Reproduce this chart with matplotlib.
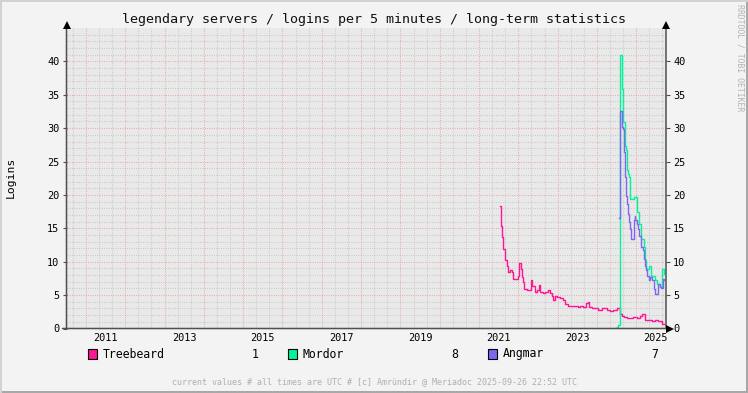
import numpy as np
import matplotlib.pyplot as plt
from matplotlib.patches import Rectangle
from matplotlib.transforms import offset_copy

# ---------------------------------------------------------------------------
# data (decimal years / logins per 5 minutes)
treebeard_t = [2021.534, 2021.552, 2021.585, 2021.618, 2021.662, 2021.705, 2021.746,
               2021.789, 2021.832, 2021.873, 2022.000, 2022.025, 2022.061, 2022.087,
               2022.127, 2022.153, 2022.220, 2022.316, 2022.356, 2022.425, 2022.483,
               2022.519, 2022.552, 2022.621, 2022.679, 2022.748, 2022.807, 2022.850,
               2022.891, 2022.934, 2022.992, 2023.061, 2023.130, 2023.188, 2023.272,
               2023.359, 2023.443, 2023.511, 2023.570, 2023.654, 2023.723, 2023.766,
               2023.807, 2023.868, 2023.952, 2024.036, 2024.122, 2024.181, 2024.249,
               2024.333, 2024.417, 2024.504, 2024.545, 2024.588, 2024.631, 2024.690,
               2024.758, 2024.842, 2024.926, 2025.013, 2025.097, 2025.155, 2025.232,
               2025.308, 2025.394, 2025.478, 2025.562, 2025.649, 2025.690, 2025.715]
treebeard_v = [18.3, 15.4, 13.7, 11.9, 10.2, 9.4, 8.4,
               8.7, 8.4, 7.4, 7.9, 9.8, 8.9, 7.7,
               6.9, 5.9, 5.8, 7.3, 6.4, 5.4, 5.7,
               6.5, 5.4, 5.3, 5.4, 5.8, 5.3, 4.8,
               4.3, 4.8, 4.7, 4.6, 4.2, 3.7, 3.4,
               3.3, 3.4, 3.2, 3.3, 3.2, 3.8, 3.9,
               3.2, 3.0, 3.1, 2.8, 3.0, 3.1, 2.7,
               2.6, 2.8, 3.1, 3.0, 2.2, 1.9, 1.7,
               1.6, 1.5, 1.7, 1.6, 1.8, 2.2, 1.3,
               1.2, 1.1, 1.2, 1.1, 0.7, 0.6, 0.6]

mordor_t = [2024.511, 2024.537, 2024.575, 2024.646, 2024.672, 2024.707, 2024.740,
            2024.758, 2024.784, 2024.809, 2024.830, 2024.936, 2025.020, 2025.064,
            2025.130, 2025.191, 2025.216, 2025.242, 2025.318, 2025.384, 2025.471,
            2025.529, 2025.613, 2025.656, 2025.700, 2025.715]
mordor_v = [0.2, 0.5, 40.9, 35.8, 30.9, 27.4, 26.7,
            23.7, 23.2, 22.7, 19.4, 19.7, 17.4, 15.7,
            13.4, 12.2, 10.2, 8.9, 9.4, 7.9, 7.2,
            6.7, 6.2, 8.9, 8.2, 8.2]

angmar_t = [2024.570, 2024.588, 2024.639, 2024.664, 2024.682, 2024.707, 2024.740,
            2024.766, 2024.791, 2024.824, 2024.850, 2024.875, 2024.936, 2024.962,
            2024.977, 2025.020, 2025.046, 2025.079, 2025.130, 2025.165, 2025.191,
            2025.232, 2025.257, 2025.275, 2025.318, 2025.359, 2025.402, 2025.445,
            2025.486, 2025.555, 2025.613, 2025.639, 2025.674, 2025.715]
angmar_v = [16.5, 32.5, 30.2, 29.9, 26.4, 22.7, 19.9,
            18.7, 17.2, 15.9, 14.9, 13.4, 16.2, 16.9,
            16.2, 15.7, 14.9, 13.9, 12.2, 11.7, 10.4,
            9.4, 8.7, 7.9, 7.2, 7.7, 7.2, 5.9,
            5.2, 6.7, 6.2, 6.0, 7.4, 7.2]

series_names = ["Treebeard", "Mordor", "Angmar"]
series_colors = ["#FF1493", "#00F59B", "#7B68EE"]
current_values = ["1", "8", "7"]

year_labels = [2011, 2013, 2015, 2017, 2019, 2021, 2023, 2025]
y_labels = list(range(0, 45, 5))

title = "legendary servers / logins per 5 minutes / long-term statistics"
footer = "current values # all times are UTC # [c] Amründir @ Meriadoc 2025-09-26 22:52 UTC"
#---------------------------------------------------------------------------

W, H = 748, 393
mono = "DejaVu Sans Mono"
axis_col = "#505050"

fig = plt.figure(figsize=(W / 100, H / 100), dpi=100)
fig.patch.set_facecolor("#F3F3F3")

# 3d-ish frame around the canvas like rrdtool draws it
fig.add_artist(Rectangle((0, 0), 1, 2 / H, transform=fig.transFigure, color="#A8A8A8", lw=0))
fig.add_artist(Rectangle((1 - 2 / W, 0), 2 / W, 1, transform=fig.transFigure, color="#A8A8A8", lw=0))
fig.add_artist(Rectangle((0, 1 - 2 / H), 1, 2 / H, transform=fig.transFigure, color="#D2D2D2", lw=0))
fig.add_artist(Rectangle((0, 0), 2 / W, 1, transform=fig.transFigure, color="#D2D2D2", lw=0))

x0, x1, y0, y1 = 66.5, 666, 328.5, 28
ax = fig.add_axes((x0 / W, 1 - y0 / H, (x1 - x0) / W, (y0 - y1) / H))
ax.set_facecolor("#E9E9E9")
ax.set_xlim(2010.504, 2025.758)
ax.set_ylim(0, 45)
for s in ax.spines.values():
    s.set_visible(False)

# grid: minor grey dotted, major red dotted
dots = (0, (0.7, 1.5))
for yy in np.arange(1, 45, 1):
    col = "#EB9595" if yy % 5 == 0 else "#C0C0C0"
    ax.axhline(yy, color=col, lw=0.75, ls=dots, zorder=1)
for xx in np.arange(2010 + 2 / 3, 2025.76, 1 / 3):
    major = abs(xx - round(xx)) < 1e-6
    ax.axvline(xx, color="#EB9595" if major else "#C0C0C0", lw=0.75, ls=dots, zorder=1)

for t, v, c in zip([treebeard_t, mordor_t, angmar_t], [treebeard_v, mordor_v, angmar_v], series_colors):
    ax.plot(t, v, drawstyle="steps-post", color=c, lw=1.0, zorder=3)

# ticks
ax.set_xticks([y + 0.5 for y in year_labels])
ax.set_xticklabels([str(y) for y in year_labels], family=mono, fontsize=7.4)
ax.set_yticks(y_labels)
ax.set_yticklabels([str(v) for v in y_labels], family=mono, fontsize=7.4)
ax.tick_params(axis="x", length=0, pad=3.5)
ax.tick_params(axis="y", length=3, width=0.8, color=axis_col, direction="out", pad=2,
               left=True, right=True, labelleft=True, labelright=True)

# axis lines + black arrow heads
up = offset_copy(ax.transAxes, fig=fig, x=0, y=3.5, units="dots")
right = offset_copy(ax.transAxes, fig=fig, x=3.5, y=0, units="dots")
left = offset_copy(ax.transAxes, fig=fig, x=-4, y=0, units="dots")
ln = dict(arrowstyle="-", color=axis_col, lw=1.1, shrinkA=0, shrinkB=0)
ax.annotate("", xy=(0, 1), xycoords=up, xytext=(0, 0), textcoords=ax.transAxes,
            arrowprops=ln, annotation_clip=False)
ax.annotate("", xy=(1, 1), xycoords=up, xytext=(1, 0), textcoords=ax.transAxes,
            arrowprops=ln, annotation_clip=False)
ax.annotate("", xy=(1, 0), xycoords=right, xytext=(0, 0), textcoords=left,
            arrowprops=ln, annotation_clip=False)
for px, py, mk, tr in [(0, 1, "^", up), (1, 1, "^", up), (1, 0, ">", right)]:
    ax.plot([px], [py], marker=mk, ms=5.5, color="black", mew=0, transform=tr, clip_on=False, zorder=5)

# texts
fig.text(374 / W, 1 - 19 / H, title, family=mono, fontsize=9.6, ha="center", va="center", color="#111111")
fig.text(11 / W, 1 - 177 / H, "Logins", family=mono, fontsize=8.2, rotation=90, ha="center", va="center")
fig.text(740 / W, 1 - 58 / H, "RRDTOOL / TOBI OETIKER", family=mono, fontsize=5.9, rotation=270,
         ha="center", va="center", color="#B4B4B4")
fig.text(374 / W, 1 - 382 / H, footer, family=mono, fontsize=6.0, ha="center", va="center", color="#AFAFAF")

# legend row
for i, (name, col, cur) in enumerate(zip(series_names, series_colors, current_values)):
    bx = 88 + i * 200
    fig.add_artist(Rectangle((bx / W, 1 - 359 / H), 9 / W, 10 / H, transform=fig.transFigure,
                             facecolor=col, edgecolor="black", lw=0.8))
    fig.text((bx + 14.5) / W, 1 - 354 / H, name, family=mono, fontsize=8.3, ha="left", va="center")
    fig.text((bx + 167) / W, 1 - 354 / H, cur, family=mono, fontsize=8.3, ha="center", va="center")

fig.savefig("out.png", dpi=100, facecolor=fig.get_facecolor())
